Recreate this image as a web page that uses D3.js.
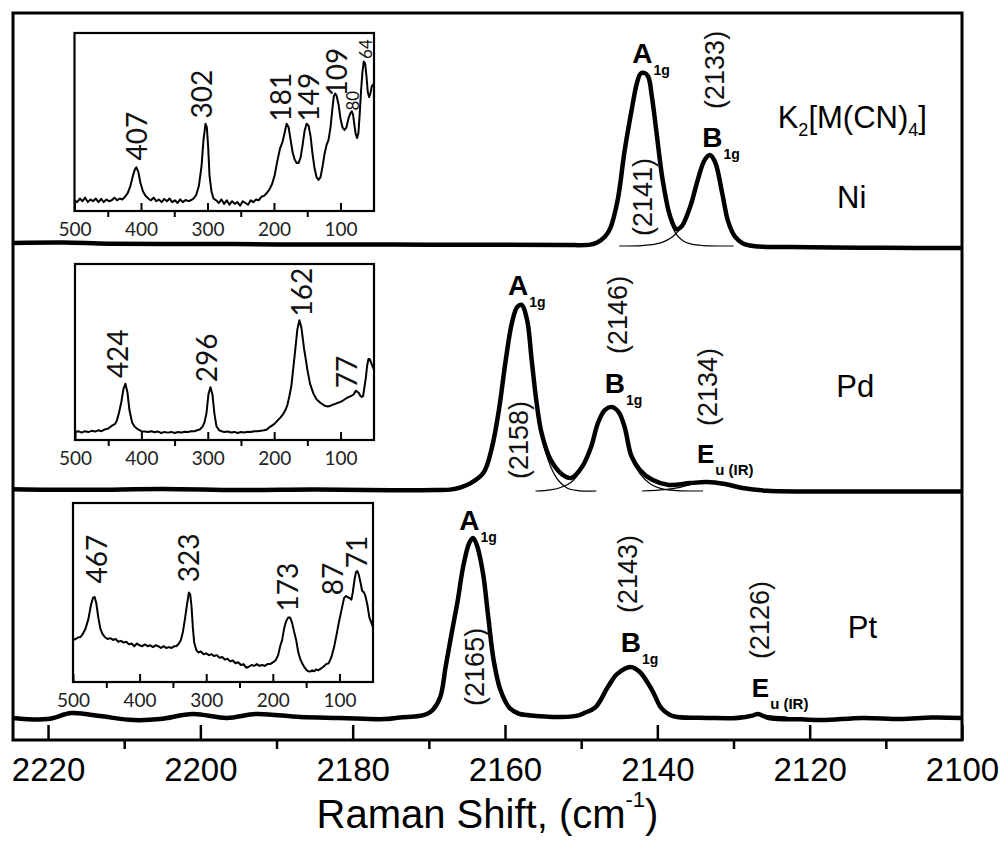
<!DOCTYPE html>
<html>
<head>
<meta charset="utf-8">
<script src="https://cdn.jsdelivr.net/npm/d3@7"></script>
<style>
  body { margin: 0; background: #fff; }
  svg { display: block; font-family: "Liberation Sans", Arial, sans-serif; }
</style>
</head>
<body>
<svg id="chart" width="1000" height="842"></svg>
<script>
// ---- Data ----
// Main axis (Raman shift, cm-1)
const ramanTicks = [2220, 2200, 2180, 2160, 2140, 2120, 2100];
const ramanMinor = [2210, 2190, 2170, 2150, 2130, 2110];
// Inset axis (low frequency, cm-1)
const lowTicks = [500, 400, 300, 200, 100];
const lowMinor = [450, 350, 250, 150];

// CN stretch region, [wavenumber, intensity] (intensity in arbitrary units, 0-100)
const niEnvelope = [[2224.6, 1.3], [2218, 1.5], [2212, 1.0], [2200, 0.9], [2190, 0.7], [2175, 0.6], [2160, 0.5], [2152, 0.4],
  [2148.8, 0.6], [2147.9, 1.5], [2146.9, 4], [2146.2, 7.5], [2145.2, 20], [2144.3, 41], [2143.3, 60], [2142.7, 70],
  [2142.2, 74.3], [2141.7, 74.6], [2141.2, 73], [2140.7, 64], [2140.1, 48.7], [2139.3, 28.4], [2138.3, 12.5], [2137.5, 7.3],
  [2136.8, 8.5], [2135.7, 16.8], [2134.7, 28.4], [2133.8, 37], [2133.1, 39.2], [2132.4, 36], [2131.5, 23], [2130.7, 10.5],
  [2129.8, 4], [2128.8, 1.2], [2127.4, 0], [2120, -0.5], [2110, -0.8], [2100, -0.9]];
const niBandA = [[2152, 0], [2148.8, 0.6], [2147.9, 1.5], [2146.9, 4], [2146.2, 7.5], [2145.2, 20], [2144.3, 41], [2143.3, 60],
  [2142.7, 70], [2142.2, 74.3], [2141.7, 74.6], [2141.2, 73], [2140.7, 64], [2140.1, 48.7], [2139.3, 28], [2138.3, 11],
  [2137.5, 5], [2136.6, 2.2], [2135.5, 0.8], [2134, 0.2], [2130, 0]];
const niBandB = [[2145, 0], [2142, 0.2], [2140.3, 0.8], [2139.2, 1.8], [2138.3, 3.3], [2137.5, 5.5], [2136.8, 8.3], [2135.7, 16.8],
  [2134.7, 28.4], [2133.8, 37], [2133.1, 39.2], [2132.4, 36], [2131.5, 23], [2130.7, 10.5], [2129.8, 4], [2128.8, 1.2],
  [2127.4, 0.2], [2124, 0]];

const pdEnvelope = [[2224.6, 0.8], [2215, 0.5], [2205, 0.9], [2195, 0.4], [2185, 0.6], [2175, 0.3], [2169, 0.4], [2167.2, 0.6],
  [2165.8, 1.6], [2164.5, 3.4], [2162.8, 8], [2161.7, 19], [2160.8, 35], [2159.9, 56.5], [2159.1, 72.4], [2158.4, 79.3],
  [2157.8, 80.2], [2157.1, 73.7], [2156.5, 56.5], [2155.9, 39.2], [2155.2, 25], [2154.0, 13.4], [2152.4, 6.9], [2151.3, 5.6],
  [2149.9, 10.3], [2148.7, 19], [2147.8, 29.3], [2146.9, 34.9], [2146.0, 36.2], [2145.1, 34.1], [2144.3, 27.6], [2143.4, 15],
  [2142.3, 9.1], [2140.6, 4.7], [2138.5, 2.6], [2135.7, 3.4], [2133.5, 3.9], [2131.1, 3.0], [2128.8, 1.3], [2125.6, 0.1],
  [2115, -0.2], [2100, -0.2]];
const pdBandA = [[2170, 0], [2167.2, 0.4], [2165.8, 1.4], [2164.5, 3.1], [2162.8, 7.6], [2161.7, 18.6], [2160.8, 34.5],
  [2159.9, 56], [2159.1, 72], [2158.4, 79], [2157.8, 79.8], [2157.1, 73.2], [2156.5, 56], [2155.9, 38.5], [2155.2, 23.5],
  [2154.0, 10.5], [2152.9, 4.2], [2151.8, 1.2], [2150.5, 0.2], [2148, 0]];
const pdBandB = [[2156, 0], [2154, 0.5], [2152.6, 1.6], [2151.3, 3.8], [2149.9, 9.5], [2148.7, 18.6], [2147.8, 29], [2146.9, 34.7],
  [2146.0, 36], [2145.1, 33.9], [2144.3, 27.2], [2143.4, 14.2], [2142.3, 7.5], [2140.9, 3], [2139.5, 1.0], [2137.5, 0.2], [2134, 0]];
const pdBandE = [[2142, 0], [2139, 0.6], [2137, 1.6], [2135.5, 2.8], [2133.5, 3.6], [2131.5, 2.8], [2129.5, 1.3], [2127.5, 0.4], [2124, 0]];

const ptEnvelope = [[2224.6, -0.4], [2220.1, -0.9], [2216.9, 1.7], [2213.2, 0.4], [2208.8, -1.3], [2205.3, -0.9], [2201.0, 1.3],
  [2196.5, -0.4], [2192.7, 1.3], [2186.9, 0], [2181.7, -0.4], [2175.8, -0.9], [2173.8, -0.2], [2171.3, 0.4], [2170.2, 1.4],
  [2169.5, 3.0], [2168.5, 8.6], [2167.8, 21.6], [2167.0, 36.2], [2166.2, 50.4], [2165.5, 64.7], [2164.7, 75.0], [2164.2, 77.2],
  [2163.7, 74.1], [2162.9, 62.1], [2162.2, 43.1], [2161.5, 24.6], [2160.6, 11.6], [2159.4, 3.9], [2158.2, 1.5], [2157.1, 0.9],
  [2152.6, 0], [2150.5, 0.6], [2149.6, 1.7], [2148.1, 4.3], [2146.5, 12.9], [2145.3, 18.5], [2143.5, 21.6], [2142.3, 19.4],
  [2140.7, 11.6], [2139.5, 3.9], [2138.4, 1.0], [2137.4, 0], [2133.4, -0.4], [2129.4, -0.4], [2127.5, 0.6], [2126.8, 1.3],
  [2125.4, -0.4], [2121, -1.0], [2118.3, -1.3], [2113, -0.4], [2108, -0.9], [2104, -0.2], [2100, -0.4]];
const ptBandA = [[2175, 0], [2172, 0.3], [2170.5, 1.2], [2169.5, 3.2], [2168.5, 8.8], [2167.8, 21.8], [2167.0, 36.4], [2166.2, 50.6],
  [2165.5, 64.8], [2164.7, 75.0], [2164.2, 77.0], [2163.7, 74.0], [2162.9, 62.0], [2162.2, 43.0], [2161.5, 24.2], [2160.6, 11],
  [2159.4, 3.2], [2158.2, 0.8], [2156.5, 0.1], [2154, 0]];
const ptBandB = [[2153, 0], [2150.5, 0.4], [2149.6, 1.4], [2148.1, 4], [2146.5, 12.6], [2145.3, 18.2], [2143.5, 21.4], [2142.3, 19.2],
  [2140.7, 11.3], [2139.5, 3.6], [2138.4, 0.9], [2136.5, 0.1], [2134, 0]];
const ptBandE = [[2131, 0], [2128.5, 0.6], [2127, 1.3], [2125.5, 0.6], [2123, 0]];

// Low frequency insets, [wavenumber, intensity 0-1]
const niLow = [[500, 0.06], [496, 0.05], [492, 0.07], [488, 0.055], [484, 0.075], [480, 0.05], [476, 0.065], [472, 0.055],
  [468, 0.07], [464, 0.05], [460, 0.068], [456, 0.05], [452, 0.065], [448, 0.055], [444, 0.06], [440, 0.075], [436, 0.06],
  [432, 0.07], [428, 0.065], [424, 0.08], [420, 0.1], [416, 0.14], [412, 0.2], [409, 0.235], [407, 0.245], [404, 0.22],
  [401, 0.16], [397, 0.11], [393, 0.085], [389, 0.07], [385, 0.06], [381, 0.075], [377, 0.055], [373, 0.065], [369, 0.05],
  [365, 0.068], [361, 0.055], [357, 0.07], [353, 0.05], [349, 0.06], [345, 0.045], [341, 0.065], [337, 0.05], [333, 0.062],
  [329, 0.055], [325, 0.06], [321, 0.07], [317, 0.09], [313, 0.14], [309, 0.25], [306, 0.4], [303, 0.49], [301, 0.47],
  [299, 0.36], [297, 0.2], [294, 0.11], [291, 0.07], [287, 0.06], [283, 0.045], [279, 0.065], [275, 0.04], [271, 0.06],
  [267, 0.035], [263, 0.055], [259, 0.04], [255, 0.05], [251, 0.03], [247, 0.055], [243, 0.045], [239, 0.035], [235, 0.06],
  [231, 0.05], [227, 0.065], [223, 0.06], [219, 0.08], [215, 0.085], [211, 0.1], [207, 0.12], [203, 0.15], [199, 0.2],
  [195, 0.28], [191, 0.35], [187, 0.39], [184, 0.44], [181, 0.49], [178, 0.47], [175, 0.4], [172, 0.33], [169, 0.29],
  [166, 0.27], [163, 0.27], [160, 0.3], [157, 0.37], [154, 0.45], [151, 0.49], [148, 0.48], [145, 0.42], [142, 0.32],
  [139, 0.24], [136, 0.19], [133, 0.175], [130, 0.19], [127, 0.25], [124, 0.32], [121, 0.37], [118, 0.4], [115, 0.47],
  [112, 0.58], [110, 0.645], [108, 0.66], [106, 0.65], [103, 0.6], [100, 0.52], [97, 0.47], [94, 0.455], [91, 0.47],
  [88, 0.52], [85, 0.55], [83, 0.56], [81, 0.54], [79, 0.48], [77, 0.43], [75, 0.41], [73, 0.44], [71, 0.55], [69, 0.68],
  [67, 0.78], [65, 0.84], [63, 0.83], [61, 0.76], [59, 0.67], [57, 0.64], [55, 0.66], [53, 0.7], [51, 0.71], [49.6, 0.7]];
const pdLow = [[500, 0.045], [495, 0.05], [490, 0.042], [485, 0.05], [480, 0.045], [475, 0.052], [470, 0.048], [465, 0.055],
  [460, 0.05], [455, 0.06], [450, 0.065], [445, 0.08], [440, 0.09], [437, 0.11], [434, 0.15], [430, 0.22], [427, 0.29],
  [424, 0.32], [421, 0.27], [418, 0.17], [414, 0.1], [410, 0.075], [405, 0.06], [400, 0.05], [395, 0.048], [390, 0.045],
  [385, 0.05], [380, 0.044], [375, 0.048], [370, 0.04], [365, 0.046], [360, 0.042], [355, 0.046], [350, 0.04], [345, 0.045],
  [340, 0.042], [335, 0.047], [330, 0.045], [325, 0.05], [320, 0.05], [316, 0.055], [312, 0.06], [308, 0.075], [305, 0.1],
  [302, 0.15], [299, 0.26], [296, 0.30], [293, 0.26], [290, 0.15], [287, 0.08], [283, 0.055], [279, 0.05], [275, 0.045],
  [270, 0.048], [265, 0.043], [260, 0.046], [255, 0.04], [250, 0.045], [245, 0.043], [240, 0.047], [235, 0.045], [230, 0.05],
  [225, 0.05], [220, 0.053], [215, 0.055], [211, 0.06], [208, 0.07], [204, 0.08], [200, 0.09], [195, 0.11], [190, 0.13],
  [186, 0.15], [183, 0.17], [180, 0.2], [177, 0.25], [174, 0.31], [172, 0.38], [170, 0.45], [168, 0.52], [165, 0.63],
  [162, 0.68], [159, 0.64], [157, 0.58], [155, 0.52], [152, 0.45], [150, 0.4], [146, 0.32], [141, 0.265], [136, 0.23],
  [130, 0.21], [124, 0.195], [119, 0.19], [115, 0.195], [112, 0.2], [108, 0.205], [105, 0.21], [101, 0.215], [98, 0.22],
  [94, 0.23], [90, 0.24], [87, 0.245], [84, 0.25], [80, 0.26], [77, 0.28], [75, 0.275], [73, 0.27], [70, 0.25], [68, 0.245],
  [66, 0.25], [64, 0.3], [62, 0.35], [60, 0.42], [58, 0.46], [56, 0.46], [54, 0.44], [52, 0.42], [49.6, 0.4]];
const ptLow = [[500, 0.235], [496, 0.24], [492, 0.25], [489, 0.25], [485, 0.27], [481, 0.3], [477, 0.35], [473, 0.43],
  [470, 0.47], [467.5, 0.475], [465, 0.44], [462, 0.36], [459, 0.3], [456, 0.27], [452, 0.25], [448, 0.24], [444, 0.245],
  [440, 0.235], [436, 0.24], [432, 0.225], [428, 0.23], [424, 0.22], [420, 0.225], [416, 0.21], [412, 0.215], [408, 0.2],
  [404, 0.215], [400, 0.205], [396, 0.2], [392, 0.21], [388, 0.2], [384, 0.205], [380, 0.195], [376, 0.205], [372, 0.2],
  [368, 0.19], [364, 0.2], [360, 0.19], [356, 0.195], [352, 0.19], [348, 0.2], [345, 0.2], [341, 0.215], [338, 0.235],
  [335, 0.28], [332, 0.35], [329, 0.43], [326, 0.5], [324, 0.49], [322, 0.42], [320, 0.3], [318, 0.22], [315, 0.18],
  [312, 0.165], [308, 0.17], [304, 0.155], [300, 0.16], [296, 0.15], [292, 0.155], [288, 0.145], [284, 0.15], [280, 0.135],
  [276, 0.14], [272, 0.125], [268, 0.13], [264, 0.115], [260, 0.12], [256, 0.105], [252, 0.11], [248, 0.095], [244, 0.1],
  [240, 0.08], [236, 0.085], [232, 0.095], [228, 0.09], [224, 0.1], [220, 0.09], [216, 0.095], [212, 0.09], [208, 0.1],
  [204, 0.1], [200, 0.11], [196, 0.12], [192, 0.15], [189, 0.2], [186, 0.235], [183, 0.3], [180, 0.34], [177, 0.36],
  [174, 0.36], [171, 0.33], [168, 0.28], [165, 0.235], [162, 0.17], [159, 0.13], [156, 0.105], [153, 0.085], [150, 0.07],
  [147, 0.06], [144, 0.058], [141, 0.065], [138, 0.06], [135, 0.07], [132, 0.065], [128, 0.075], [124, 0.085], [120, 0.1],
  [116, 0.105], [112, 0.14], [108, 0.195], [104, 0.27], [101, 0.33], [97, 0.4], [93, 0.47], [90, 0.48], [88, 0.475],
  [85, 0.47], [82, 0.46], [80, 0.5], [77, 0.58], [75, 0.615], [73, 0.62], [71, 0.6], [68, 0.55], [66, 0.51], [63, 0.5],
  [61, 0.48], [58, 0.43], [55, 0.36], [52, 0.33], [49, 0.3]];

// Peak labels of the insets: text, wavenumber, intensity at label centre
const niLowLabels = [{t: '407', wn: 406.8, y: 0.42, s: 28}, {t: '302', wn: 308.3, y: 0.657, s: 28},
  {t: '181', wn: 189.5, y: 0.64, s: 28}, {t: '149', wn: 147.4, y: 0.64, s: 28}, {t: '109', wn: 105.3, y: 0.78, s: 28},
  {t: '80', wn: 81.2, y: 0.62, s: 17}, {t: '64', wn: 61.7, y: 0.91, s: 17}];
const pdLowLabels = [{t: '424', wn: 435.3, y: 0.49, s: 28}, {t: '296', wn: 300.8, y: 0.466, s: 28},
  {t: '162', wn: 157.9, y: 0.84, s: 28}, {t: '77', wn: 90.2, y: 0.386, s: 28}];
const ptLowLabels = [{t: '467', wn: 464.6, y: 0.687, s: 28}, {t: '323', wn: 325.3, y: 0.693, s: 28},
  {t: '173', wn: 177, y: 0.53, s: 28}, {t: '87', wn: 109.2, y: 0.575, s: 28}, {t: '71', wn: 73.8, y: 0.726, s: 28}];

// Mode labels (symbol + subscript) and the bracketed band positions
const niModes = [{main: 'A', sub: '1g', wn: 2143.3, y: 78.9}, {main: 'B', sub: '1g', wn: 2134.1, y: 42.7}];
const pdModes = [{main: 'A', sub: '1g', wn: 2159.6, y: 84.5}, {main: 'B', sub: '1g', wn: 2146.9, y: 42.2},
  {main: 'E', sub: 'u (IR)', wn: 2134.8, y: 12.1}];
const ptModes = [{main: 'A', sub: '1g', wn: 2166.0, y: 80.6}, {main: 'B', sub: '1g', wn: 2144.8, y: 28},
  {main: 'E', sub: 'u (IR)', wn: 2127.6, y: 8.6}];
const niBands = [{t: '(2133)', wn: 2132.5, y: 75.9}, {t: '(2141)', wn: 2141.95, y: 21.1}];
const pdBands = [{t: '(2146)', wn: 2145.2, y: 75.9}, {t: '(2134)', wn: 2133.4, y: 44.8}, {t: '(2158)', wn: 2158.2, y: 22}];
const ptBands = [{t: '(2143)', wn: 2143.9, y: 61.6}, {t: '(2126)', wn: 2126.6, y: 41.8}, {t: '(2165)', wn: 2164.1, y: 21.6}];

// ---- Layout ----
const svg = d3.select('#chart');
const frame = {left: 13, right: 962, top: 13, bottom: 740};
const x = d3.scaleLinear().domain([2224.6, 2100]).range([frame.left, frame.right]);

svg.append('clipPath').attr('id', 'frameClip')
  .append('rect')
  .attr('x', frame.left).attr('y', frame.top)
  .attr('width', frame.right - frame.left).attr('height', frame.bottom - frame.top);


// One metal: thick measured trace, thin fitted bands and labels
class Panel {
  constructor(canvas, baseline, envelope, bands) {
    // y scale shared by all panels, only the baseline moves
    this.y = d3.scaleLinear().domain([0, 100]).range([baseline, baseline - 232]);
    this.group = canvas.append('g').attr('clip-path', 'url(#frameClip)');
    const line = d3.line()
      .x((d) => x(d[0]))
      .y((d) => this.y(d[1]))
      .curve(d3.curveCatmullRom.alpha(0.5));
    // Fitted components first so the trace sits on top
    for (let band of bands) {
      this.group.append('path')
        .datum(band)
        .attr('d', line)
        .attr('fill', 'none')
        .attr('stroke', '#000')
        .attr('stroke-width', 1.2);
    }
    this.group.append('path')
      .datum(envelope)
      .attr('d', line)
      .attr('fill', 'none')
      .attr('stroke', '#000')
      .attr('stroke-width', 4.5)
      .attr('stroke-linejoin', 'round');
    this.labels = canvas.append('g');
  }

  // A1g, B1g, Eu(IR) style labels
  modes(list) {
    for (let d of list) {
      const t = this.labels.append('text')
        .attr('x', x(d.wn))
        .attr('y', this.y(d.y))
        .attr('font-weight', 'bold');
      t.append('tspan').attr('font-size', d.main === 'E' ? 26 : 28).text(d.main);
      t.append('tspan').attr('font-size', d.main === 'E' ? 15 : 14).attr('dx', 1).attr('dy', 12).text(d.sub);
    }
  }

  // Rotated (21xx) band positions
  bands(list) {
    for (let d of list) {
      this.labels.append('text')
        .attr('transform', 'translate(' + x(d.wn) + ',' + this.y(d.y) + ') rotate(-90)')
        .attr('text-anchor', 'middle')
        .attr('dy', '0.36em')
        .attr('font-size', 27)
        .attr('fill', '#111')
        .text(d.t);
    }
  }

  name(text, wn, yv) {
    this.labels.append('text')
      .attr('x', x(wn))
      .attr('y', this.y(yv))
      .attr('font-size', 31)
      .text(text);
  }
} // End of Panel class


// Low frequency inset spectrum
class Inset {
  constructor(canvas, box, data, labels) {
    this.x = d3.scaleLinear().domain([500, 49.6]).range([box.x0, box.x1]);
    this.y = d3.scaleLinear().domain([0, 1]).range([box.y1, box.y0]);
    this.group = canvas.append('g');
    this.group.append('rect')
      .attr('x', box.x0).attr('y', box.y0)
      .attr('width', box.x1 - box.x0).attr('height', box.y1 - box.y0)
      .attr('fill', '#fff');
    // Major ticks point inward, minor ones outward
    const major = this.group.append('g')
      .attr('transform', 'translate(0,' + box.y1 + ')')
      .call(d3.axisBottom(this.x).tickValues(lowTicks).tickSize(-8).tickPadding(12).tickFormat(d3.format('d')));
    const minor = this.group.append('g')
      .attr('transform', 'translate(0,' + box.y1 + ')')
      .call(d3.axisBottom(this.x).tickValues(lowMinor).tickSize(6).tickFormat(''));
    for (let ax of [major, minor]) {
      ax.select('.domain').remove();
      ax.selectAll('line').attr('stroke', '#000').attr('stroke-width', 2);
    }
    major.selectAll('text')
      .attr('fill', '#222')
      .attr('font-size', 19)
      .attr('font-family', 'Lato, "Open Sans", sans-serif');
    this.group.append('path')
      .datum(data)
      .attr('d', d3.line().x((d) => this.x(d[0])).y((d) => this.y(d[1])))
      .attr('fill', 'none')
      .attr('stroke', '#000')
      .attr('stroke-width', 2)
      .attr('stroke-linejoin', 'round');
    this.group.append('rect')
      .attr('x', box.x0).attr('y', box.y0)
      .attr('width', box.x1 - box.x0).attr('height', box.y1 - box.y0)
      .attr('fill', 'none')
      .attr('stroke', '#000')
      .attr('stroke-width', 2.2);
    for (let d of labels) {
      this.group.append('text')
        .attr('transform', 'translate(' + this.x(d.wn) + ',' + this.y(d.y) + ') rotate(-90)')
        .attr('text-anchor', 'middle')
        .attr('dy', '0.36em')
        .attr('font-size', d.s)
        .attr('font-family', 'Lato, "Open Sans", sans-serif')
        .attr('fill', '#111')
        .text(d.t);
    }
  }
} // End of Inset class


// ---- Panels ----
const ni = new Panel(svg, 246, niEnvelope, [niBandA, niBandB]);
const pd = new Panel(svg, 491, pdEnvelope, [pdBandA, pdBandB, pdBandE]);
const pt = new Panel(svg, 717, ptEnvelope, [ptBandA, ptBandB, ptBandE]);

ni.modes(niModes);
ni.bands(niBands);
ni.name('Ni', 2116.4, 16.4);
const formula = ni.labels.append('text')
  .attr('x', x(2124.2))
  .attr('y', ni.y(50.9))
  .attr('font-size', 31);
formula.append('tspan').text('K');
formula.append('tspan').attr('font-size', 18).attr('dy', 8).text('2');
formula.append('tspan').attr('dy', -8).text('[M(CN)');
formula.append('tspan').attr('font-size', 18).attr('dy', 8).text('4');
formula.append('tspan').attr('dy', -8).text(']');

pd.modes(pdModes);
pd.bands(pdBands);
pd.name('Pd', 2116.5, 40.5);

pt.modes(ptModes);
pt.bands(ptBands);
pt.name('Pt', 2115.0, 34);

// ---- Insets ----
new Inset(svg, {x0: 74.5, x1: 374, y0: 33, y1: 211}, niLow, niLowLabels);
new Inset(svg, {x0: 75, x1: 374, y0: 264, y1: 440}, pdLow, pdLowLabels);
new Inset(svg, {x0: 73, x1: 373, y0: 503, y1: 682}, ptLow, ptLowLabels);

// ---- Frame and main axis ----
svg.append('rect')
  .attr('x', frame.left).attr('y', frame.top)
  .attr('width', frame.right - frame.left).attr('height', frame.bottom - frame.top)
  .attr('fill', 'none')
  .attr('stroke', '#000')
  .attr('stroke-width', 3);

const axisMajor = svg.append('g')
  .attr('transform', 'translate(0,' + frame.bottom + ')')
  .call(d3.axisBottom(x).tickValues(ramanTicks).tickSize(-15).tickPadding(18).tickFormat(d3.format('d')));
const axisMinor = svg.append('g')
  .attr('transform', 'translate(0,' + frame.bottom + ')')
  .call(d3.axisBottom(x).tickValues(ramanMinor).tickSize(9).tickFormat(''));
for (let ax of [axisMajor, axisMinor]) {
  ax.select('.domain').remove();
  ax.selectAll('line').attr('stroke', '#000').attr('stroke-width', 2.5);
}
axisMajor.selectAll('text')
  .attr('fill', '#000')
  .attr('font-size', 33)
  .attr('font-family', '"Liberation Sans", Arial, sans-serif');

// Axis title with superscript
const title = svg.append('text')
  .attr('x', (frame.left + frame.right) / 2)
  .attr('y', 828)
  .attr('text-anchor', 'middle')
  .attr('font-size', 40);
title.append('tspan').text('Raman Shift, (cm');
title.append('tspan').attr('font-size', 22).attr('dy', -21).text('-1');
title.append('tspan').attr('dy', 21).text(')');
</script>
</body>
</html>
